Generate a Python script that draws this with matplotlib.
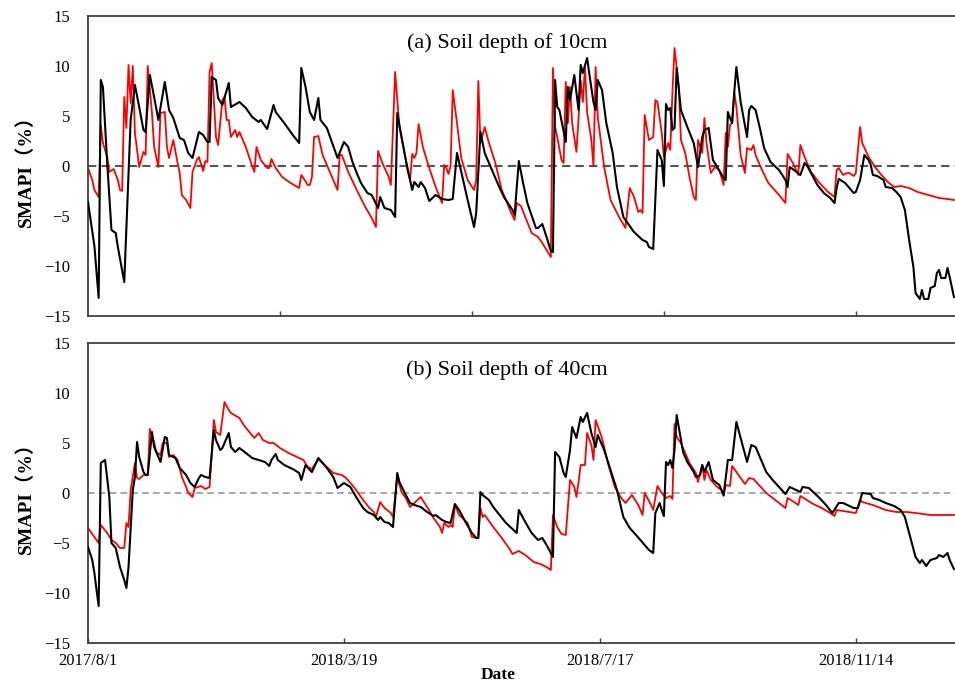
import matplotlib
matplotlib.use("Agg")
import matplotlib.pyplot as plt

# category index of each sample (0 = 2017/8/1, one step per record)
tick_labels = ['2017/8/1', '2018/3/19', '2018/7/17', '2018/11/14']
label_pos = [0, 120, 240, 360]
minor_pos = [90, 180, 270, 360]
n_days = 406.5

# (a) 10 cm, black series
black_10_idx = [0, 3, 5, 6, 7, 9, 11, 13, 14, 17, 20, 22, 24, 26, 27, 29, 31, 33, 36, 38, 40, 43, 45, 47, 49,
                52, 54, 56, 57, 58, 60, 61, 63, 66, 67, 71, 74, 77, 80, 81, 84, 87, 88, 92, 96, 99, 100, 102,
                104, 106, 108, 109, 112, 114, 117, 120, 122, 124, 126, 128, 131, 133, 136, 137, 139, 142, 144,
                145, 147, 149, 152, 153, 155, 156, 158, 160, 163, 166, 169, 171, 173, 175, 178, 181, 182, 184,
                186, 189, 192, 195, 199, 200, 202, 204, 206, 210, 211, 213, 215, 217, 218, 219, 220, 221, 224,
                225, 226, 228, 230, 231, 232, 234, 236, 237, 238, 239, 241, 243, 246, 248, 251, 253, 256, 260,
                262, 263, 265, 267, 269, 270, 271, 272, 273, 274, 275, 276, 278, 281, 284, 286, 288, 289, 291,
                293, 295, 298, 299, 300, 301, 302, 303, 304, 306, 309, 310, 311, 313, 315, 317, 320, 324, 327,
                328, 329, 331, 334, 336, 337, 339, 342, 345, 348, 350, 351, 352, 355, 357, 359, 360, 362, 364,
                366, 367, 368, 370, 373, 374, 377, 379, 381, 383, 385, 387, 388, 390, 391, 392, 394, 395, 397,
                398, 399, 400, 402, 403, 404, 406]
black_10_val = [-3.6, -8.0, -13.2, 8.6, 7.9, 0.3, -6.4, -6.7, -8.1, -11.6, 4.6, 8.1, 5.9, 3.6, 3.4, 9.1, 6.9,
                4.6, 8.4, 5.6, 4.8, 2.8, 2.6, 1.3, 0.8, 3.4, 3.1, 2.4, 2.4, 8.9, 8.6, 6.8, 6.1, 8.3, 5.9, 6.4,
                5.8, 4.9, 4.4, 4.6, 3.7, 6.1, 5.4, 4.3, 3.1, 2.3, 9.8, 7.9, 5.4, 4.6, 6.8, 4.6, 3.8, 2.6, 0.8,
                2.4, 1.9, 0.4, -0.7, -1.7, -2.7, -2.9, -4.2, -3.1, -4.2, -4.4, -5.1, 5.3, 2.9, 0.6, -2.4, -1.6,
                -2.1, -1.6, -2.2, -3.5, -2.9, -3.3, -3.4, -3.3, 1.3, -0.6, -3.4, -6.1, -4.7, 3.4, 1.3, -0.2,
                -1.7, -3.1, -4.4, -4.9, 0.5, -1.7, -3.7, -6.2, -6.2, -5.8, -7.1, -8.5, -8.6, 8.6, 5.9, 5.6,
                2.4, 7.9, 6.6, 9.1, 5.6, 10.1, 9.3, 10.8, 7.8, 6.4, 5.6, 8.6, 7.6, 4.3, 1.3, -2.1, -5.1, -5.7,
                -6.6, -7.4, -7.6, -8.1, -8.3, 1.6, 0.6, -2.0, 6.2, 5.6, 5.8, 3.6, 3.8, 9.8, 5.6, 3.9, 2.3,
                -0.1, 2.9, 3.6, 3.8, 0.6, -0.1, -1.2, -1.4, 5.4, 4.8, 4.3, 7.4, 9.9, 6.4, 2.9, 5.6, 6.0, 5.6,
                3.8, 1.8, 0.4, -0.4, -1.4, -2.1, -0.1, -0.4, -0.9, 0.3, 0.1, -0.7, -1.9, -2.7, -3.2, -3.7,
                -2.2, -1.3, -1.7, -2.2, -2.7, -2.6, -1.4, 1.1, 0.6, 0.1, -0.9, -1.0, -1.4, -2.1, -2.2, -2.6,
                -3.1, -4.4, -7.4, -10.1, -12.7, -13.3, -12.4, -13.3, -13.3, -12.2, -12.0, -10.7, -10.4, -11.2,
                -11.2, -10.2, -11.1, -13.1]

# (a) 10 cm, red series
red_10_idx = [0, 2, 3, 5, 6, 7, 9, 10, 12, 14, 15, 16, 17, 18, 19, 20, 21, 22, 24, 26, 27, 28, 30, 31, 33,
              34, 36, 37, 38, 40, 42, 43, 44, 46, 48, 49, 51, 52, 54, 55, 56, 57, 58, 60, 61, 63, 64, 65, 66,
              67, 69, 70, 71, 74, 76, 78, 79, 81, 84, 85, 86, 88, 91, 95, 99, 100, 101, 103, 104, 105, 106,
              108, 110, 113, 117, 118, 119, 122, 126, 130, 133, 135, 136, 138, 141, 142, 144, 146, 148, 150,
              151, 152, 153, 154, 155, 157, 160, 163, 166, 167, 168, 169, 170, 171, 173, 175, 178, 181, 182,
              183, 184, 186, 188, 191, 194, 196, 198, 200, 201, 203, 205, 208, 211, 213, 215, 217, 218, 219,
              220, 222, 223, 224, 225, 226, 227, 229, 230, 231, 232, 233, 234, 236, 237, 238, 239, 242, 245,
              249, 252, 254, 256, 258, 259, 260, 261, 263, 265, 266, 267, 269, 270, 272, 273, 274, 275, 277,
              278, 280, 282, 284, 285, 286, 288, 289, 290, 292, 294, 296, 298, 299, 300, 301, 302, 303, 304,
              306, 308, 309, 311, 312, 313, 316, 319, 324, 327, 328, 331, 333, 334, 336, 339, 343, 347, 350,
              351, 352, 354, 356, 357, 359, 360, 362, 363, 366, 369, 372, 375, 378, 381, 385, 389, 394, 399,
              403, 406]
red_10_val = [-0.2, -1.4, -2.4, -3.1, 4.1, 2.3, 0.9, -0.6, -0.3, -1.4, -2.4, -2.5, 6.9, 3.8, 10.1, 6.3, 10.0,
              3.3, -0.1, 1.4, 1.1, 10.0, 5.3, 1.9, -0.1, 5.3, 5.4, 1.9, 0.8, 2.6, 0.3, -0.7, -2.9, -3.4, -4.2,
              -0.6, 0.6, 0.9, -0.5, 0.5, 0.4, 9.4, 10.3, 2.9, 2.1, 6.6, 6.9, 4.6, 4.6, 2.9, 3.6, 2.9, 3.4, 1.9,
              0.6, -0.6, 1.9, 0.6, -0.2, -0.2, 0.7, -0.2, -1.1, -1.7, -2.2, -0.9, -1.2, -1.9, -1.9, -1.1, 2.9,
              3.0, 1.1, -0.4, -2.4, 1.1, 1.1, -0.6, -2.4, -4.1, -5.2, -6.1, 1.5, 0.3, -1.1, -1.9, 9.4, 3.9,
              1.8, -0.6, -1.4, 1.2, 0.8, 1.3, 4.2, 1.9, -0.2, -2.1, -3.7, 0.1, -0.2, -0.8, 0.0, 7.6, 4.3, 0.8,
              -1.4, -2.4, -1.4, 8.5, 2.3, 3.9, 2.3, 0.3, -2.4, -3.4, -4.5, -5.4, -3.7, -4.0, -5.1, -6.7, -7.1,
              -7.7, -8.4, -9.1, 9.8, 3.9, 2.9, 0.6, 0.3, 8.4, 4.3, 7.9, 4.3, 1.4, 4.8, 8.6, 6.4, 9.9, 5.4,
              2.6, 0.0, 9.9, 4.9, -0.1, -3.4, -5.1, -6.2, -2.2, -3.1, -4.6, -4.4, -4.7, 5.1, 2.6, 2.9, 6.6,
              6.4, 3.3, 0.9, 2.3, 1.6, 7.3, 11.8, 7.9, 2.6, 1.3, -1.1, -3.1, -3.4, 2.6, 1.3, 4.8, 2.3, -0.7,
              -0.1, -0.4, -1.9, 3.3, 1.9, 4.1, 4.3, 7.4, 5.9, 1.1, -0.7, 1.8, 1.6, 2.1, 1.1, -0.4, -1.7, -2.9,
              -3.7, 1.2, 0.1, -0.9, 2.1, 0.9, -0.6, -1.7, -2.6, -3.1, -0.4, -0.2, -0.9, -0.7, -0.7, -1.0,
              -0.7, 3.9, 2.3, 0.9, -0.1, -0.9, -1.6, -2.1, -2.0, -2.2, -2.6, -2.9, -3.2, -3.3, -3.4]

# (b) 40 cm, black series
black_40_idx = [0, 2, 3, 4, 5, 6, 8, 10, 11, 13, 15, 17, 18, 19, 21, 22, 23, 24, 26, 27, 28, 30, 31, 34, 36,
                37, 38, 41, 43, 46, 48, 50, 52, 53, 55, 57, 59, 60, 62, 63, 66, 67, 69, 71, 74, 77, 80, 83,
                85, 86, 88, 89, 92, 96, 99, 100, 102, 104, 105, 108, 110, 112, 115, 117, 120, 123, 126, 129,
                131, 134, 136, 137, 139, 141, 142, 143, 145, 146, 149, 151, 153, 156, 159, 162, 163, 166, 168,
                170, 172, 174, 177, 180, 182, 183, 184, 185, 188, 190, 193, 196, 199, 201, 202, 205, 208, 211,
                213, 215, 218, 219, 221, 223, 224, 226, 227, 229, 231, 232, 234, 236, 238, 239, 242, 245, 248,
                251, 254, 259, 263, 265, 266, 268, 269, 270, 271, 272, 273, 274, 275, 276, 278, 279, 281, 284,
                285, 287, 288, 289, 291, 293, 296, 297, 298, 299, 300, 302, 304, 306, 309, 311, 313, 315, 318,
                321, 324, 327, 329, 331, 334, 335, 338, 340, 343, 346, 349, 352, 354, 356, 359, 361, 363, 367,
                368, 371, 374, 378, 381, 383, 385, 388, 390, 391, 393, 395, 398, 399, 401, 403, 404, 406]
black_40_val = [-5.4, -6.7, -8.0, -9.7, -11.3, 3.0, 3.3, -0.4, -5.0, -5.5, -7.4, -8.7, -9.5, -7.4, 0.3, 1.6,
                5.1, 3.6, 2.1, 1.8, 1.8, 6.1, 4.6, 3.1, 5.6, 5.5, 3.8, 3.5, 2.5, 1.8, 1.0, 0.6, 1.5, 1.8, 1.6,
                1.5, 6.3, 5.3, 4.3, 4.5, 6.0, 4.6, 4.1, 4.5, 4.0, 3.5, 3.3, 3.1, 2.7, 3.3, 3.9, 3.3, 2.8, 2.4,
                2.0, 1.3, 2.8, 2.3, 2.1, 3.5, 3.0, 2.5, 1.6, 0.5, 1.0, 0.6, -0.5, -1.5, -1.9, -2.2, -2.7, -2.4,
                -2.9, -3.0, -3.2, -3.4, 2.0, 1.1, -0.2, -1.0, -1.2, -1.4, -1.9, -2.3, -2.2, -2.7, -2.9, -3.0,
                -1.1, -1.7, -2.9, -4.0, -4.5, -4.5, 0.1, -0.2, -0.7, -1.4, -2.2, -3.0, -3.6, -4.0, -1.7, -2.9,
                -4.0, -4.7, -4.5, -5.2, -6.4, 4.1, 3.6, 2.0, 1.6, 4.3, 6.6, 5.5, 7.6, 7.1, 8.0, 6.0, 4.6, 5.8,
                4.3, 2.3, 0.3, -2.4, -3.5, -4.7, -5.7, -6.0, -2.0, -1.0, -1.7, -2.3, 3.1, 2.8, 3.3, 2.5, 4.3,
                7.8, 5.3, 4.1, 3.1, 2.1, 1.6, 1.8, 2.8, 2.1, 3.1, 1.3, 0.8, 0.3, -0.2, 1.5, 3.3, 3.3, 7.1, 5.5,
                3.1, 4.8, 4.6, 3.6, 2.1, 1.3, 0.6, -0.1, 0.6, 0.4, 0.1, 0.6, 0.5, 0.1, -0.5, -1.2, -2.0, -1.0,
                -1.0, -1.2, -1.5, -1.5, 0.0, -0.1, -0.5, -0.7, -1.0, -1.3, -1.7, -2.4, -4.0, -6.4, -7.0, -6.7,
                -7.3, -6.7, -6.5, -6.2, -6.4, -6.0, -6.7, -7.6]

# (b) 40 cm, red series
red_40_idx = [0, 3, 5, 6, 9, 11, 13, 15, 17, 18, 19, 20, 22, 23, 24, 26, 28, 29, 31, 32, 34, 35, 37, 38, 40,
              42, 44, 46, 47, 49, 50, 53, 55, 57, 59, 60, 62, 64, 66, 67, 71, 73, 76, 78, 80, 82, 85, 87, 90,
              94, 98, 101, 103, 105, 108, 111, 115, 119, 121, 125, 129, 132, 134, 135, 137, 139, 142, 143, 145,
              147, 149, 151, 153, 156, 159, 162, 165, 166, 167, 169, 170, 171, 172, 174, 178, 180, 182, 183,
              184, 185, 186, 190, 194, 198, 199, 202, 205, 209, 212, 215, 217, 218, 220, 222, 224, 225, 226,
              228, 229, 230, 231, 233, 234, 236, 237, 238, 241, 244, 247, 250, 252, 255, 258, 260, 261, 264,
              265, 267, 269, 271, 273, 274, 275, 276, 278, 280, 282, 285, 286, 287, 288, 289, 290, 292, 295,
              297, 298, 299, 301, 302, 304, 306, 308, 310, 312, 315, 318, 321, 324, 327, 328, 331, 333, 334,
              337, 340, 344, 348, 350, 351, 354, 357, 360, 362, 363, 368, 374, 379, 384, 388, 395, 401, 406]
red_40_val = [-3.5, -4.4, -5.0, -3.2, -4.0, -4.7, -5.0, -5.5, -5.5, -3.0, -3.4, 0.3, 3.0, 1.5, 1.4, 1.8, 1.8,
              6.4, 5.1, 4.1, 3.8, 5.0, 5.0, 3.6, 3.8, 3.3, 1.6, 0.6, 0.0, -0.4, 0.5, 0.7, 0.4, 0.6, 7.3, 6.1,
              5.8, 9.1, 8.3, 8.0, 7.5, 6.8, 6.0, 5.5, 6.0, 5.3, 5.0, 5.0, 4.5, 4.0, 3.6, 3.3, 2.6, 2.4, 3.4,
              2.8, 2.0, 1.8, 1.5, 0.5, -0.7, -1.5, -1.9, -2.4, -0.9, -1.5, -2.0, -2.4, 1.6, 0.1, -0.5, -1.4,
              -1.0, -0.4, -1.4, -2.5, -3.4, -4.0, -3.0, -3.4, -3.2, -3.4, -1.2, -2.2, -3.0, -4.4, -4.5, -4.5,
              -1.5, -2.4, -2.2, -3.4, -4.5, -5.7, -6.1, -5.8, -6.2, -6.9, -7.1, -7.4, -7.7, -2.2, -3.4, -4.1,
              -4.2, -1.5, 1.3, 0.6, -0.4, 1.1, 2.8, 2.8, 6.0, 4.8, 3.3, 7.3, 5.5, 2.8, 0.6, -0.5, -1.0, -0.2,
              -1.2, -2.2, 0.0, -1.2, -1.7, 0.7, 0.0, -0.5, -0.3, -0.6, 6.9, 5.6, 5.0, 4.0, 3.0, 2.0, 1.1, 2.0,
              2.8, 1.3, 2.3, 1.3, 0.6, 0.3, -0.3, 0.8, 0.7, 2.7, 2.1, 1.5, 0.9, 1.5, 1.4, 0.7, 0.0, -0.5,
              -1.0, -1.5, -0.5, -0.9, -1.2, -0.3, -0.7, -1.1, -1.5, -2.0, -2.3, -1.7, -1.8, -1.9, -2.0, -0.7,
              -0.9, -1.2, -1.7, -1.9, -1.9, -2.0, -2.2, -2.2, -2.2]

titles = ['(a) Soil depth of 10cm', '(b) Soil depth of 40cm']

serif = ['Liberation Serif', 'DejaVu Serif']
cjk = ['Liberation Serif', 'Noto Sans CJK SC', 'DejaVu Sans']

fig = plt.figure(figsize=(9.55, 6.82), dpi=100)
ax1 = fig.add_axes([88 / 955, 1 - 316 / 682, 867 / 955, 300 / 682])
ax2 = fig.add_axes([88 / 955, 1 - 643 / 682, 867 / 955, 300 / 682])

panels = [
    (ax1, black_10_idx, black_10_val, red_10_idx, red_10_val, '#555555', 1.5),
    (ax2, black_40_idx, black_40_val, red_40_idx, red_40_val, '#9a9a9a', 1.2),
]

for i, (ax, bx, by, rx, ry, zcol, zlw) in enumerate(panels):
    ax.axhline(0, color=zcol, lw=zlw, dashes=(4, 2.5), zorder=1)
    ax.plot(bx, by, color='black', lw=1.5, zorder=3)
    ax.plot(rx, ry, color='#ff0000', lw=1.3, zorder=2)
    ax.set_xlim(0, n_days)
    ax.set_ylim(-15, 15)
    ax.set_yticks([-15, -10, -5, 0, 5, 10, 15])
    for lab in ax.get_yticklabels():
        lab.set_family(serif)
        lab.set_fontsize(12)
    ax.tick_params(axis='y', length=0, pad=13)
    ax.tick_params(axis='x', direction='in', length=3.5, width=1, color='#404040')
    for side in ['left', 'top', 'bottom']:
        ax.spines[side].set_color('#404040')
        ax.spines[side].set_linewidth(1.3)
    ax.spines['right'].set_visible(False)
    ax.set_ylabel('SMAPI（%）', family=cjk, fontsize=14, fontweight='bold', labelpad=6)
    ax.text(0.483, 0.91, titles[i], transform=ax.transAxes, ha='center', va='center',
            family=serif, fontsize=16)

ax1.set_xticks(minor_pos)
ax1.set_xticklabels([])
ax2.set_xticks(label_pos)
ax2.set_xticklabels(tick_labels, family=serif, fontsize=12)
ax2.tick_params(axis='x', pad=7)
fig.text(498 / 955, 1 - 675 / 682, 'Date', ha='center', va='center', family=serif,
         fontsize=12.5, fontweight='bold')

fig.savefig('out.png', dpi=100)
